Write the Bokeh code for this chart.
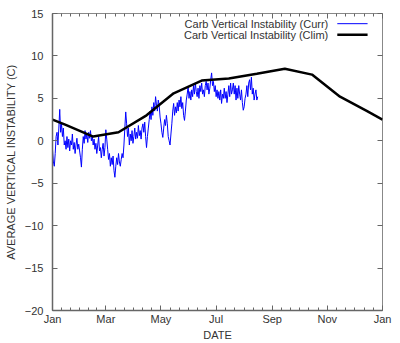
from bokeh.plotting import figure
from bokeh.models import FixedTicker, LinearAxis, Range1d, Label, CustomJSTickFormatter
from bokeh.embed import file_html
from bokeh.resources import INLINE

# ---------------- data ----------------
month_tick_days = [0, 59, 120, 181, 243, 304, 365]
month_tick_labels = ["Jan", "Mar", "May", "Jul", "Sep", "Nov", "Jan"]
y_ticks = [-20, -15, -10, -5, 0, 5, 10, 15]

clim_days = [0, 14, 45, 73, 104, 134, 165, 195, 226, 257, 287, 318, 348, 365]
clim_vals = [2.5, 1.9, 0.5, 1.0, 3.0, 5.6, 7.1, 7.35, 7.9, 8.5, 7.8, 5.2, 3.5, 2.5]

curr_vals = [
    -1.0, -2.5, -3.0, -1.5, 0.5, 1.0, -0.5, 1.5, 3.7, 1.0,
    2.0, 0.5, 1.5, -0.5, 0.0, -1.0, 0.5, -0.8, 0.2, -1.2,
    0.0, -0.5, 0.8, -1.0, -0.2, -1.5, -0.5, 0.3, -1.0, -0.4,
    -1.2, -2.0, -3.1, -1.0, 0.5, -0.3, 1.2, 0.2, 0.8, -0.2,
    1.0, 0.3, 1.2, 0.0, 0.6, -0.5, 0.2, -1.0, -0.3, -1.5,
    -0.5, 0.5, -1.2, -0.8, -2.0, -1.0, -0.3, -1.8, -0.8, 1.3,
    0.2, -1.0, -2.2, -1.5, -3.0, -2.0, -2.8, -1.8, -3.5, -4.3,
    -3.0, -2.0, -2.8, -1.5, -2.5, -3.0, -2.2, -1.5, -2.0, -0.5,
    1.5, 3.4, 2.0, 0.5, 1.5, -0.5, 0.8, 0.0, 1.2, -0.3,
    0.5, 1.5, 0.2, 1.0, 0.3, 1.8, 0.6, 1.2, 0.2, 1.5,
    2.0, 1.0, 2.2, 0.5, -0.8, 0.5, 1.5, 2.5, 3.5, 2.5,
    4.0, 3.0, 4.5, 3.5, 5.2, 4.2, 3.5, 4.8, 4.2, 2.8,
    2.0, 1.0, 0.4, 1.5, 2.5, 1.8, 3.0, 2.0, 0.5, 0.0,
    -0.5, 0.8, 2.0, 3.5, 4.4, 3.0, 4.0, 3.3, 4.5, 3.5,
    4.8, 4.0, 5.2, 3.8, 4.5, 3.0, 2.4, 3.5, 4.8, 5.5,
    6.4, 5.0, 5.8, 4.8, 6.0, 5.2, 6.5, 5.5, 6.8, 5.8,
    5.2, 6.2, 5.0, 6.5, 5.8, 6.8, 5.5, 6.0, 5.2, 6.5,
    7.0, 6.0, 6.8, 5.5, 6.2, 7.2, 8.0, 6.5, 7.0, 5.8,
    6.5, 5.2, 6.0, 5.0, 5.8, 4.8, 6.0, 4.4, 5.5, 5.0,
    6.2, 5.0, 5.8, 4.5, 5.5, 6.5, 5.2, 6.8, 5.5, 6.0,
    6.8, 5.5, 6.5, 4.8, 6.2, 5.0, 6.5, 5.5, 4.8, 6.0,
    4.5, 3.6, 4.0, 5.0, 5.5, 6.5, 5.2, 6.8, 7.2, 6.0,
    7.5, 5.5, 6.2, 4.8, 5.5, 6.0, 4.8, 5.2,
]
curr_days = list(range(len(curr_vals)))

legend_curr = "Carb Vertical Instability (Curr)"
legend_clim = "Carb Vertical Instability (Clim)"

# ---------------- styling ----------------
FONT = "Liberation Sans"
TXT = "#333333"
AX = "#666666"

p = figure(width=400, height=343,
           x_range=Range1d(0, 365), y_range=Range1d(-20, 15),
           output_backend="svg", toolbar_location=None,
           min_border_left=52, min_border_right=18,
           min_border_top=13, min_border_bottom=33,
           background_fill_color="white", border_fill_color="white")
p.grid.visible = False
p.outline_line_color = "#888888"
p.outline_line_width = 1

minor_x = []
for a, b in zip(month_tick_days[:-1], month_tick_days[1:]):
    for k in range(1, 6):
        minor_x.append(a + k * (b - a) / 6.0)

xticker = FixedTicker(ticks=month_tick_days, minor_ticks=minor_x)
yticker = FixedTicker(ticks=y_ticks, minor_ticks=[])
overrides = {d: l for d, l in zip(month_tick_days, month_tick_labels)}

xa = p.xaxis[0]
xa.ticker = xticker
xa.major_label_overrides = overrides
xa.axis_label = "DATE"
ya = p.yaxis[0]
ya.ticker = yticker
ya.axis_label = "AVERAGE VERTICAL INSTABILITY (C)"

for ax in (xa, ya):
    ax.axis_line_color = AX
    ax.axis_line_width = 1.5
    ax.major_tick_line_color = AX
    ax.minor_tick_line_color = AX
    ax.major_tick_in = 5
    ax.major_tick_out = 0
    ax.minor_tick_in = 3
    ax.minor_tick_out = 0
    ax.major_label_text_font = FONT
    ax.major_label_text_font_size = "11px"
    ax.major_label_text_color = TXT
    ax.axis_label_text_font = FONT
    ax.axis_label_text_font_size = "11px"
    ax.axis_label_text_font_style = "normal"
    ax.axis_label_text_color = TXT
xa.major_label_standoff = 2
xa.axis_label_standoff = 1
ya.major_label_standoff = 9
ya.axis_label_standoff = 5

blank = CustomJSTickFormatter(code="return ''")
top = LinearAxis(ticker=xticker, formatter=blank, major_label_text_font_size="1px",
                 major_label_standoff=0, axis_line_color=None,
                 major_tick_line_color=AX, minor_tick_line_color=AX,
                 major_tick_in=5, major_tick_out=0, minor_tick_in=3, minor_tick_out=0)
right = LinearAxis(ticker=yticker, formatter=blank, major_label_text_font_size="1px",
                   major_label_standoff=0, axis_line_color=None,
                   major_tick_line_color=AX,
                   major_tick_in=5, major_tick_out=0, minor_tick_in=0, minor_tick_out=0)
p.add_layout(top, "above")
p.add_layout(right, "right")

# ---------------- data lines ----------------
p.line(curr_days, curr_vals, line_color="#0000ff", line_width=1)
p.line(clim_days, clim_vals, line_color="#000000", line_width=2.5)

# ---------------- legend (text left, sample right) ----------------
LEG_TEXT_X = 305
LEG_S0, LEG_S1 = 315, 348.5
LEG_Y1, LEG_Y2 = 13.8, 12.5
p.add_layout(Label(x=LEG_TEXT_X, y=LEG_Y1, text=legend_curr, text_align="right",
                   text_baseline="middle", text_font=FONT, text_font_size="11px",
                   text_color=TXT))
p.add_layout(Label(x=LEG_TEXT_X, y=LEG_Y2, text=legend_clim, text_align="right",
                   text_baseline="middle", text_font=FONT, text_font_size="11px",
                   text_color=TXT))
p.line([LEG_S0, LEG_S1], [LEG_Y1, LEG_Y1], line_color="#0000ff", line_width=1)
p.line([LEG_S0, LEG_S1], [LEG_Y2, LEG_Y2], line_color="#000000", line_width=2.5)

open("out.html", "w").write(file_html(p, INLINE))
